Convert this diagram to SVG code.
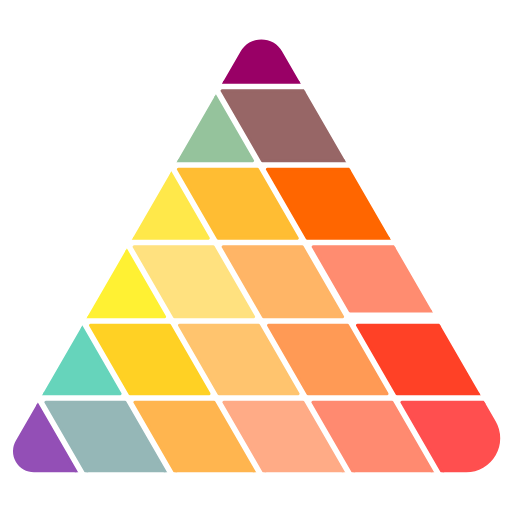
<svg xmlns="http://www.w3.org/2000/svg" width="512" height="512" viewBox="0 0 512 512">
  <style>
    .c{fill:currentColor;stroke:currentColor;stroke-width:3;stroke-linejoin:round}
  </style>
  <defs>
    <clipPath id="tri">
      <path d="M 240.57 51.4 A 24 24 0 0 1 282.13 51.4 L 495.66 421.3 A 34 34 0 0 1 466.21 472.3 L 33.97 472.3 A 21 21 0 0 1 15.79 440.8 Z"/>
    </clipPath>
  </defs>
  <rect width="512" height="512" fill="#ffffff"/>
  <g id="pyramid" clip-path="url(#tri)">
    <g id="row1">
      <polygon class="c" color="#990066" points="-50,-10 560,-10 560,82.2 -50,82.2"/>
    </g>
    <g id="row2">
      <polygon class="c" color="#95C39C" points="-50,90.8 212.17,90.8 252.53,160.7 -50,160.7"/>
      <polygon class="c" color="#976666" points="222.11,90.8 560,90.8 560,160.7 262.47,160.7"/>
    </g>
    <g id="row3">
      <polygon class="c" color="#FFE84A" points="-50,169.3 168.49,169.3 208.27,238.2 -50,238.2"/>
      <polygon class="c" color="#FFBD33" points="178.43,169.3 257.49,169.3 297.27,238.2 218.21,238.2"/>
      <polygon class="c" color="#FF6600" points="267.43,169.3 560,169.3 560,238.2 307.21,238.2"/>
    </g>
    <g id="row4">
      <polygon class="c" color="#FFF133" points="-50,246.8 124.23,246.8 164.59,316.7 -50,316.7"/>
      <polygon class="c" color="#FFE17F" points="134.17,246.8 213.23,246.8 253.59,316.7 174.53,316.7"/>
      <polygon class="c" color="#FFB566" points="223.17,246.8 302.23,246.8 342.59,316.7 263.53,316.7"/>
      <polygon class="c" color="#FF8C70" points="313.2,246.8 560,246.8 560,311 350.2,311"/>
    </g>
    <g id="row5">
      <polygon class="c" color="#66D4BB" points="-50,325.3 80.56,325.3 120.05,393.7 -50,393.7"/>
      <polygon class="c" color="#FFD124" points="90.5,325.3 169.56,325.3 209.05,393.7 129.99,393.7"/>
      <polygon class="c" color="#FFC46E" points="179.5,325.3 258.56,325.3 298.05,393.7 218.99,393.7"/>
      <polygon class="c" color="#FF9A55" points="268.5,325.3 347.56,325.3 387.05,393.7 307.99,393.7"/>
      <polygon class="c" color="#FF4126" points="357.5,325.3 560,325.3 560,393.7 396.99,393.7"/>
    </g>
    <g id="row6">
      <polygon class="c" color="#934FB6" points="-50,402.3 36.01,402.3 86.65,490 -50,490"/>
      <polygon class="c" color="#95B7B7" points="45.95,402.3 125.01,402.3 175.65,490 96.59,490"/>
      <polygon class="c" color="#FFB54F" points="134.95,402.3 214.01,402.3 264.65,490 185.59,490"/>
      <polygon class="c" color="#FFAB86" points="223.95,402.3 303.01,402.3 353.65,490 274.59,490"/>
      <polygon class="c" color="#FF8A70" points="312.95,402.3 392.01,402.3 442.65,490 363.59,490"/>
      <polygon class="c" color="#FF4F4F" points="401.95,402.3 560,402.3 560,490 452.59,490"/>
    </g>
  </g>
</svg>
